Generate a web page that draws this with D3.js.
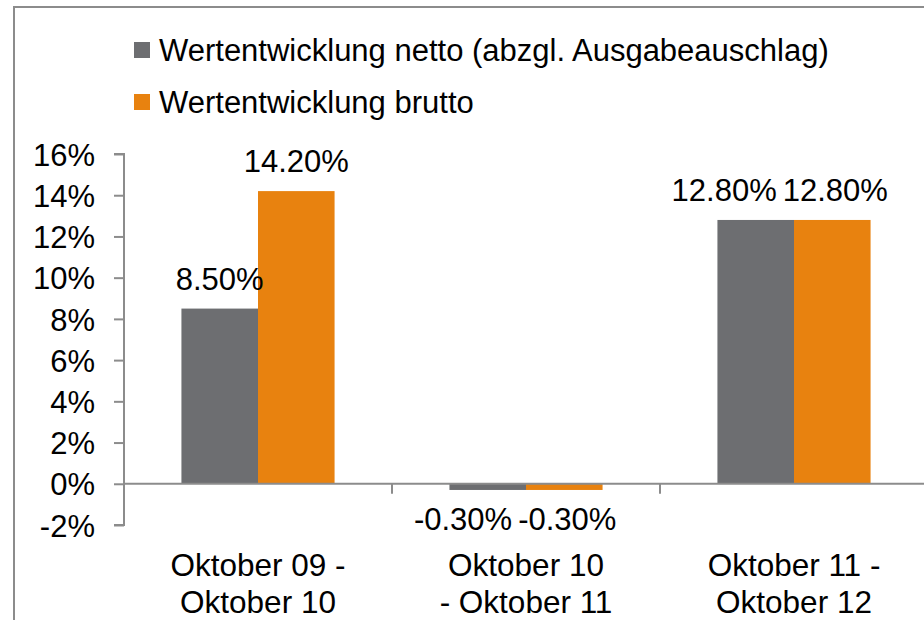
<!DOCTYPE html>
<html>
<head>
<meta charset="utf-8">
<script src="https://cdn.jsdelivr.net/npm/d3@7"></script>
<style>
  body { margin: 0; background: #fff; }
  svg { display: block; font-family: "Liberation Sans", Arial, sans-serif; }
</style>
</head>
<body>
<div id="chart"></div>
<script>
// categories are already split into the two lines shown under each group
var categories = ["Oktober 09 - Oktober 10", "Oktober 10 - Oktober 11", "Oktober 11 - Oktober 12"];
var categoryLines = [["Oktober 09 -", "Oktober 10"], ["Oktober 10", "- Oktober 11"], ["Oktober 11 -", "Oktober 12"]];
var seriesNames = ["Wertentwicklung netto (abzgl. Ausgabeauschlag)", "Wertentwicklung brutto"];
var netto = [8.5, -0.3, 12.8];
var brutto = [14.2, -0.3, 12.8];
var yTicks = [-2, 0, 2, 4, 6, 8, 10, 12, 14, 16];

(function() {
  var width = 924,
  height = 620;

  var colors = ["#6d6e71", "#e8820f"];
  var axisColor = "#8c8c8c";
  var fontSize = 31;

  var svg = d3.select("#chart")
    .append("svg")
    .attr("width", width)
    .attr("height", height);

  // outer frame (only top and left edges are inside the picture)
  svg.append("path")
    .attr("d", "M14,640 L14,7 L940,7")
    .attr("fill", "none")
    .attr("stroke", axisColor)
    .attr("stroke-width", 2);

  var x0 = d3.scaleBand().domain(categories).range([124, 928]).paddingInner(0).paddingOuter(0)
  var x1 = d3.scaleBand().domain([0, 1]).range([0, x0.bandwidth()]).paddingInner(0).paddingOuter(0.75)
  var y = d3.scaleLinear().domain([-2, 16]).range([525, 154])

  // y axis
  var yAxis = svg.append("g")
    .attr("transform", "translate(124,0)")
    .call(d3.axisLeft(y).tickValues(yTicks).tickFormat(function(d) { return d + "%"; }).tickSize(10).tickPadding(19))
  yAxis.select(".domain").attr("stroke", axisColor).attr("stroke-width", 2).attr("d", "M-10," + y(16) + "H0V" + y(-2) + "H-10")
  yAxis.selectAll(".tick line").attr("stroke", axisColor).attr("stroke-width", 2)
  yAxis.selectAll(".tick text").attr("fill", "#000").attr("font-size", fontSize).attr("font-family", "Liberation Sans, Arial, sans-serif").attr("dy", "0.36em")

  var rows = categories.map(function(c, i) {
    return { cat: c, lines: categoryLines[i], values: [netto[i], brutto[i]] };
  })

  // bars
  var groups = svg.selectAll(".group")
    .data(rows)
    .enter().append("g")
    .attr("class", "group")
    .attr("transform", function(d) { return "translate(" + x0(d.cat) + ",0)"; })

  groups.selectAll("rect")
    .data(function(d) { return d.values.map(function(v, k) { return { k: k, v: v }; }); })
    .enter().append("rect")
    .attr("x", function(d) { return x1(d.k); })
    .attr("width", x1.bandwidth())
    .attr("y", function(d) { return y(Math.max(0, d.v)); })
    .attr("height", function(d) { return Math.abs(y(d.v) - y(0)); })
    .attr("fill", function(d) { return colors[d.k]; })

  // x axis line and category separators
  svg.append("line")
    .attr("x1", 124).attr("x2", width)
    .attr("y1", y(0)).attr("y2", y(0))
    .attr("stroke", axisColor).attr("stroke-width", 2)

  svg.selectAll(".sep")
    .data(categories.slice(1))
    .enter().append("line")
    .attr("x1", function(d) { return x0(d); }).attr("x2", function(d) { return x0(d); })
    .attr("y1", y(0)).attr("y2", y(0) + 10)
    .attr("stroke", axisColor).attr("stroke-width", 2)

  // category labels
  groups.selectAll(".cat")
    .data(function(d) { return d.lines; })
    .enter().append("text")
    .attr("x", x0.bandwidth() / 2)
    .attr("y", function(d, i) { return 576 + i * 37; })
    .attr("text-anchor", "middle")
    .attr("font-size", fontSize + 0.5)
    .text(function(d) { return d; })

  // value labels, nudged apart where the two of a group collide
  var fmt = function(v) { return v.toFixed(2) + "%"; }
  groups.each(function(d) {
    var g = d3.select(this)
    var labels = d.values.map(function(v, k) {
      var t = g.append("text")
        .attr("text-anchor", "middle")
        .attr("font-size", fontSize)
        .attr("x", x1(k) + x1.bandwidth() / 2)
        .attr("y", v >= 0 ? y(v) - 19 : y(v) + 40)
        .text(fmt(v))
      return t
    })
    var w0 = labels[0].node().getComputedTextLength(),
        w1 = labels[1].node().getComputedTextLength()
    var c0 = x1(0) + x1.bandwidth() / 2,
        c1 = x1(1) + x1.bandwidth() / 2
    if (c0 + w0 / 2 + 6 > c1 - w1 / 2 && Math.abs(+labels[0].attr("y") - +labels[1].attr("y")) < 30) {
      c1 += 3
      c0 = c1 - w1 / 2 - 6 - w0 / 2
      labels[0].attr("x", c0)
      labels[1].attr("x", c1)
    }
  })

  // legend
  var legend = svg.selectAll(".legend")
    .data(seriesNames)
    .enter().append("g")
    .attr("class", "legend")
    .attr("transform", function(d, i) { return "translate(134," + (42 + i * 52) + ")"; })

  legend.append("rect")
    .attr("width", 16).attr("height", 16)
    .attr("fill", function(d, i) { return colors[i]; })

  legend.append("text")
    .attr("x", 25)
    .attr("y", 19)
    .attr("font-size", fontSize)
    .text(function(d) { return d; })
})();
</script>
</body>
</html>
